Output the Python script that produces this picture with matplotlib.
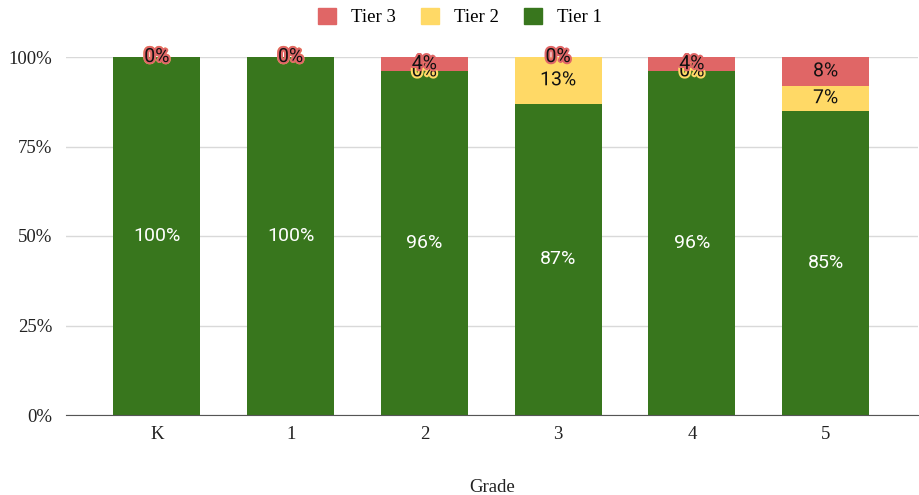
import matplotlib
matplotlib.use("Agg")
import matplotlib.pyplot as plt
import matplotlib.patheffects as pe
import numpy as np
from matplotlib.patches import Patch

grades = ["K", "1", "2", "3", "4", "5"]
tier1 = [100, 100, 96, 87, 96, 85]
tier2 = [0, 0, 0, 13, 0, 7]
tier3 = [0, 0, 4, 0, 4, 8]

c1, c2, c3 = "#38761d", "#ffd966", "#e06666"

fig = plt.figure(figsize=(9.2, 4.95), dpi=100)
ax = fig.add_axes([66 / 920, 1 - 415 / 495, 852 / 920, 358 / 495])

x = np.arange(len(grades))
w = 0.65
t1 = np.array(tier1)
t2 = np.array(tier2)
t3 = np.array(tier3)

ax.bar(x, t1, w, color=c1, zorder=2)
ax.bar(x, t2, w, bottom=t1, color=c2, zorder=2)
ax.bar(x, t3, w, bottom=t1 + t2, color=c3, zorder=2)

lab_font = dict(family="Roboto", fontsize=14, ha="center", va="center", zorder=5)
for i in range(len(grades)):
    ax.text(x[i], t1[i] / 2, f"{t1[i]}%", color="white", **lab_font)
for i in range(len(grades)):
    ax.text(x[i], t1[i] + t2[i] / 2, f"{t2[i]}%", color="#111111",
            path_effects=[pe.withStroke(linewidth=3, foreground=c2)], **lab_font)
for i in range(len(grades)):
    ax.text(x[i], t1[i] + t2[i] + t3[i] / 2, f"{t3[i]}%", color="#111111",
            path_effects=[pe.withStroke(linewidth=3, foreground=c3)], **lab_font)

ax.set_xlim(-0.68, 5.69)
ax.set_ylim(0, 100)
ax.set_yticks([0, 25, 50, 75, 100])
ax.set_yticklabels(["0%", "25%", "50%", "75%", "100%"])
ax.set_xticks(x)
ax.set_xticklabels(grades)
ax.grid(axis="y", color="#d9d9d9", linewidth=1, zorder=0)
for s in ["top", "right", "left"]:
    ax.spines[s].set_visible(False)
ax.spines["bottom"].set_color("#555555")
ax.spines["bottom"].set_zorder(3)
ax.tick_params(length=0, pad=8)
ax.tick_params(axis="y", pad=10)
for t in ax.get_xticklabels() + ax.get_yticklabels():
    t.set_family("Liberation Serif")
    t.set_fontsize(13.5)
    t.set_color("#222222")

ax.set_xlabel("Grade", family="Liberation Serif", fontsize=13.5, color="#222222", labelpad=26)

handles = [Patch(color=c3, label="Tier 3"), Patch(color=c2, label="Tier 2"), Patch(color=c1, label="Tier 1")]
fig.legend(handles=handles, loc="center", bbox_to_anchor=(0.5, 1 - 17 / 495), ncol=3,
           frameon=False, handlelength=1.0, handleheight=1.0, handletextpad=0.8,
           columnspacing=1.3, prop=dict(family="Liberation Serif", size=13.5))

fig.savefig("out.png", dpi=100)
